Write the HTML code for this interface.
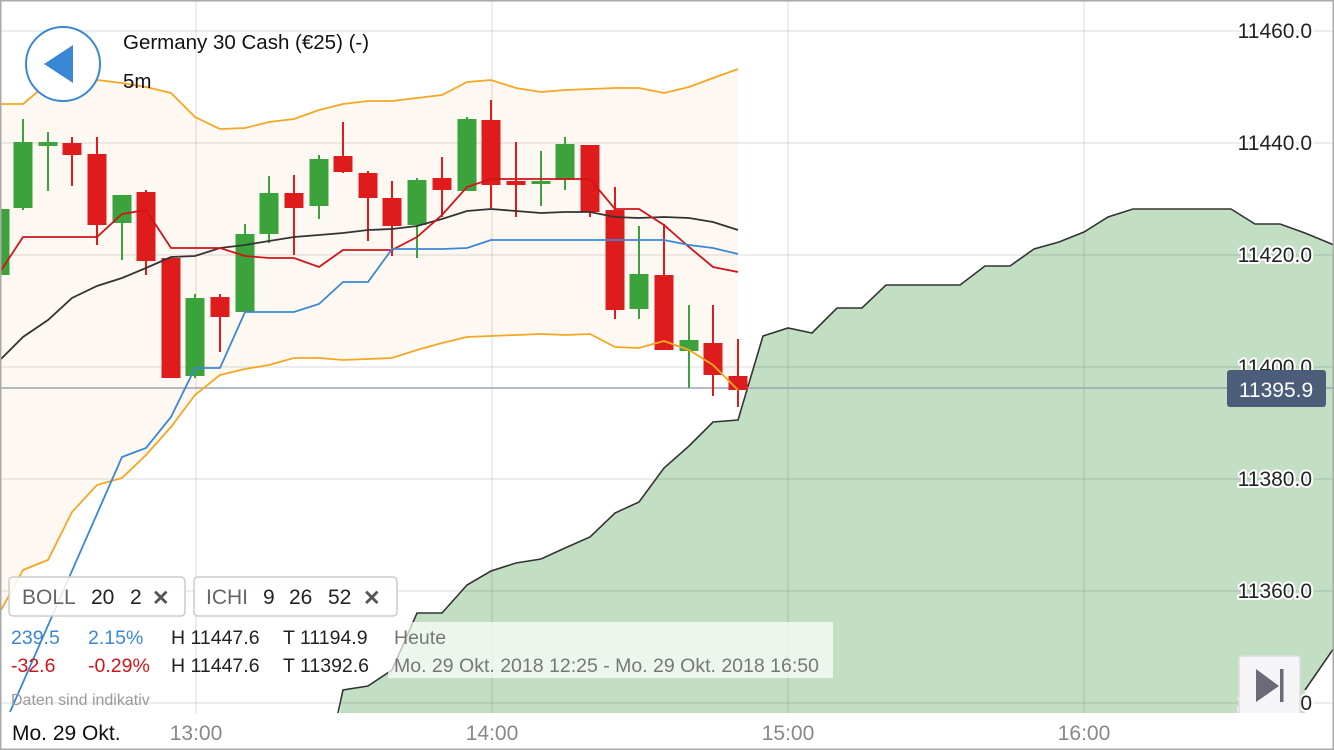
<!DOCTYPE html>
<html><head><meta charset="utf-8"><style>
html,body{margin:0;padding:0;background:#fff;}
svg{display:block;font-family:"Liberation Sans",sans-serif;}
.ax{font-size:21px;fill:#222;stroke:#fff;stroke-width:4px;paint-order:stroke;stroke-linejoin:round;}
</style></head><body>
<svg width="1334" height="750" viewBox="0 0 1334 750">
<rect x="0" y="0" width="1334" height="750" fill="#fff"/>
<polygon fill="#fdf9f2" points="0,104 23,104 48,83 72,78 97,80 122,83 146,87 171,93 195,117 220,129 245,128 269,122 294,119 319,110 343,104 368,101 392,101 417,98 442,95 467,82 491,80 516,88 541,92 565,90 590,89 615,88 639,88 664,93 689,87 713,78 738,69 738,390 713,365 689,350 664,341 639,348 615,347 590,334 565,335 541,334 516,335 491,336 467,337 442,343 417,350 392,358 368,359 343,360 319,358 294,358 269,365 245,369 220,375 195,395 171,427 146,455 122,478 97,485 72,512 48,560 23,570 0,612"/>
<polygon fill="#c3dfc3" points="340,713 343,690 368,686 392,670 417,613 442,613 467,585 491,571 516,563 541,559 565,548 590,537 615,513 639,502 664,468 689,446 713,422 738,420 763,336 788,328 812,333 837,308 862,308 886,285 911,285 935,285 960,285 985,266 1010,266 1034,249 1059,242 1084,232 1108,217 1133,209 1231,209 1255,224 1280,224 1305,233 1334,245 1334,648 1305,690 1305,713"/>
<g stroke="#000" stroke-opacity="0.07" stroke-width="2">
<line x1="0" y1="31" x2="1334" y2="31"/><line x1="0" y1="143" x2="1334" y2="143"/><line x1="0" y1="255" x2="1334" y2="255"/><line x1="0" y1="367" x2="1334" y2="367"/><line x1="0" y1="479" x2="1334" y2="479"/><line x1="0" y1="591" x2="1334" y2="591"/><line x1="0" y1="703" x2="1334" y2="703"/>
<line x1="196" y1="0" x2="196" y2="713"/><line x1="492" y1="0" x2="492" y2="713"/><line x1="788" y1="0" x2="788" y2="713"/><line x1="1084" y1="0" x2="1084" y2="713"/>
</g>
<polyline fill="none" stroke="#333" stroke-width="1.6" points="338,713 343,690 368,686 392,670 417,613 442,613 467,585 491,571 516,563 541,559 565,548 590,537 615,513 639,502 664,468 689,446 713,422 738,420 763,336 788,328 812,333 837,308 862,308 886,285 911,285 935,285 960,285 985,266 1010,266 1034,249 1059,242 1084,232 1108,217 1133,209 1231,209 1255,224 1280,224 1305,233 1334,245"/>
<polyline fill="none" stroke="#333" stroke-width="1.6" points="1305,690 1334,648"/>
<line x1="0" y1="388" x2="1334" y2="388" stroke="#9aa6b8" stroke-width="1.5"/>
<!-- candles -->
<g stroke-width="2">
<g stroke="#3ca33c" fill="#3ca33c">
<line x1="0" x2="0" y1="200" y2="280"/><rect x="-9.5" y="209" width="19" height="66" stroke="none"/>
<line x1="23" x2="23" y1="119" y2="210"/><rect x="13.5" y="142" width="19" height="66" stroke="none"/>
<line x1="48" x2="48" y1="132" y2="191"/><rect x="38.5" y="142" width="19" height="4" stroke="none"/>
<line x1="122" x2="122" y1="195" y2="260"/><rect x="112.5" y="195" width="19" height="28" stroke="none"/>
<line x1="195" x2="195" y1="294" y2="378"/><rect x="185.5" y="298" width="19" height="78" stroke="none"/>
<line x1="245" x2="245" y1="224" y2="312"/><rect x="235.5" y="234" width="19" height="78" stroke="none"/>
<line x1="269" x2="269" y1="176" y2="243"/><rect x="259.5" y="193" width="19" height="41" stroke="none"/>
<line x1="319" x2="319" y1="155" y2="219"/><rect x="309.5" y="159" width="19" height="47" stroke="none"/>
<line x1="417" x2="417" y1="178" y2="258"/><rect x="407.5" y="180" width="19" height="45" stroke="none"/>
<line x1="467" x2="467" y1="117" y2="191"/><rect x="457.5" y="119" width="19" height="72" stroke="none"/>
<line x1="541" x2="541" y1="151" y2="206"/><rect x="531.5" y="181" width="19" height="3" stroke="none"/>
<line x1="565" x2="565" y1="137" y2="190"/><rect x="555.5" y="144" width="19" height="36" stroke="none"/>
<line x1="639" x2="639" y1="226" y2="319"/><rect x="629.5" y="274" width="19" height="35" stroke="none"/>
<line x1="689" x2="689" y1="305" y2="388"/><rect x="679.5" y="340" width="19" height="11" stroke="none"/>
</g>
<g stroke="#de1c1c" fill="#de1c1c">
<line x1="72" x2="72" y1="137" y2="186"/><rect x="62.5" y="143" width="19" height="12" stroke="none"/>
<line x1="97" x2="97" y1="137" y2="245"/><rect x="87.5" y="154" width="19" height="71" stroke="none"/>
<line x1="146" x2="146" y1="190" y2="275"/><rect x="136.5" y="192" width="19" height="69" stroke="none"/>
<rect x="161.5" y="258" width="19" height="120" stroke="none"/>
<line x1="220" x2="220" y1="294" y2="352"/><rect x="210.5" y="297" width="19" height="20" stroke="none"/>
<line x1="294" x2="294" y1="175" y2="255"/><rect x="284.5" y="193" width="19" height="15" stroke="none"/>
<line x1="343" x2="343" y1="122" y2="173"/><rect x="333.5" y="156" width="19" height="16" stroke="none"/>
<line x1="368" x2="368" y1="171" y2="241"/><rect x="358.5" y="173" width="19" height="25" stroke="none"/>
<line x1="392" x2="392" y1="181" y2="256"/><rect x="382.5" y="198" width="19" height="28" stroke="none"/>
<line x1="442" x2="442" y1="157" y2="217"/><rect x="432.5" y="178" width="19" height="12" stroke="none"/>
<line x1="491" x2="491" y1="100" y2="208"/><rect x="481.5" y="120" width="19" height="65" stroke="none"/>
<line x1="516" x2="516" y1="142" y2="217"/><rect x="506.5" y="181" width="19" height="4" stroke="none"/>
<line x1="590" x2="590" y1="145" y2="217"/><rect x="580.5" y="145" width="19" height="67" stroke="none"/>
<line x1="615" x2="615" y1="187" y2="319"/><rect x="605.5" y="210" width="19" height="100" stroke="none"/>
<line x1="664" x2="664" y1="224" y2="350"/><rect x="654.5" y="275" width="19" height="75" stroke="none"/>
<line x1="713" x2="713" y1="305" y2="396"/><rect x="703.5" y="343" width="19" height="32" stroke="none"/>
<line x1="738" x2="738" y1="339" y2="407"/><rect x="728.5" y="376" width="19" height="14" stroke="none"/>
</g>
</g>
<polyline fill="none" stroke="#f5a623" stroke-width="1.8" points="0,104 23,104 48,83 72,78 97,80 122,83 146,87 171,93 195,117 220,129 245,128 269,122 294,119 319,110 343,104 368,101 392,101 417,98 442,95 467,82 491,80 516,88 541,92 565,90 590,89 615,88 639,88 664,93 689,87 713,78 738,69"/>
<polyline fill="none" stroke="#f5a623" stroke-width="1.8" points="0,612 23,570 48,560 72,512 97,485 122,478 146,455 171,427 195,395 220,375 245,369 269,365 294,358 319,358 343,360 368,359 392,358 417,350 442,343 467,337 491,336 516,335 541,334 565,335 590,334 615,347 639,348 664,341 689,350 713,365 738,390"/>
<polyline fill="none" stroke="#333" stroke-width="1.8" points="0,360 23,337 48,320 72,298 97,286 122,278 146,268 171,257 195,256 220,248 245,245 269,241 294,237 319,235 343,233 368,230 392,229 417,226 442,219 467,211 491,209 516,211 541,213 565,212 590,212 615,217 639,218 664,217 689,218 713,222 738,230"/>
<polyline fill="none" stroke="#d0141a" stroke-width="1.8" points="0,272 23,237 97,237 122,214 146,210 171,248 220,248 245,256 269,258 294,258 319,267 343,250 392,250 417,237 442,215 467,187 491,179 590,179 615,209 639,209 664,225 689,247 713,267 738,272"/>
<polyline fill="none" stroke="#3a87d6" stroke-width="1.8" points="10,712 122,457 146,448 171,417 195,368 220,368 245,312 294,312 319,304 343,282 368,282 392,249 442,249 467,248 491,240 664,240 689,245 713,248 738,254"/>
<circle cx="63" cy="64" r="37" fill="#fff" stroke="#3a87d6" stroke-width="2"/>
<polygon points="44,64 73,45 73,83" fill="#3a87d6"/>
<text x="123" y="49" font-size="20.5" fill="#111">Germany 30 Cash (€25) (-)</text>
<text x="123" y="88" font-size="20.5" fill="#111">5m</text>
<g class="ax" text-anchor="end">
<text x="1312" y="38">11460.0</text><text x="1312" y="150">11440.0</text><text x="1312" y="262">11420.0</text><text x="1312" y="374">11400.0</text><text x="1312" y="486">11380.0</text><text x="1312" y="598">11360.0</text><text x="1312" y="710">11340.0</text>
</g>
<rect x="1227" y="370" width="99" height="37" rx="3" fill="#4b5d78"/>
<text x="1276" y="397" font-size="21" fill="#fff" text-anchor="middle">11395.9</text>
<rect x="1239" y="656" width="61" height="60" rx="3" fill="#f5f5f7" stroke="#ddd" stroke-width="1.5"/>
<polygon points="1256,669 1279,686 1256,702" fill="#6b6b78"/>
<rect x="1280" y="669" width="3.5" height="33" fill="#6b6b78"/>
<rect x="0" y="713" width="1334" height="37" fill="#fff"/>
<g font-size="21" fill="#888" text-anchor="middle"><text x="196" y="740">13:00</text><text x="492" y="740">14:00</text><text x="788" y="740">15:00</text><text x="1084" y="740">16:00</text></g>
<text x="12" y="740" font-size="21" fill="#111">Mo. 29 Okt.</text>
<rect x="9" y="577" width="176" height="39" rx="4" fill="#fff" fill-opacity="0.85" stroke="#ccc" stroke-width="1.5"/>
<rect x="194" y="577" width="203" height="39" rx="4" fill="#fff" fill-opacity="0.85" stroke="#ccc" stroke-width="1.5"/>
<g font-size="21">
<text x="22" y="604" fill="#666">BOLL</text><text x="91" y="604" fill="#222">20</text><text x="130" y="604" fill="#222">2</text>
<text x="206" y="604" fill="#666">ICHI</text><text x="263" y="604" fill="#222">9</text><text x="289" y="604" fill="#222">26</text><text x="328" y="604" fill="#222">52</text>
<text x="152" y="605" fill="#555" font-weight="bold">✕</text><text x="363" y="605" fill="#555" font-weight="bold">✕</text></g>
<rect x="388" y="622" width="445" height="56" fill="#fff" fill-opacity="0.7"/>
<g font-size="19.5">
<text x="11" y="644" fill="#3a87d6">239.5</text><text x="88" y="644" fill="#3a87d6">2.15%</text>
<text x="171" y="644" fill="#222">H 11447.6</text><text x="283" y="644" fill="#222">T 11194.9</text><text x="394" y="644" fill="#777">Heute</text>
<text x="11" y="672" fill="#d0141a">-32.6</text><text x="88" y="672" fill="#d0141a">-0.29%</text>
<text x="171" y="672" fill="#222">H 11447.6</text><text x="283" y="672" fill="#222">T 11392.6</text><text x="394" y="672" fill="#777">Mo. 29 Okt. 2018 12:25 - Mo. 29 Okt. 2018 16:50</text>
</g>
<text x="11" y="705" font-size="16" fill="#999">Daten sind indikativ</text>
<rect x="0.5" y="0.5" width="1333" height="749" fill="none" stroke="#aaa" stroke-width="2"/>
</svg>
</body></html>
